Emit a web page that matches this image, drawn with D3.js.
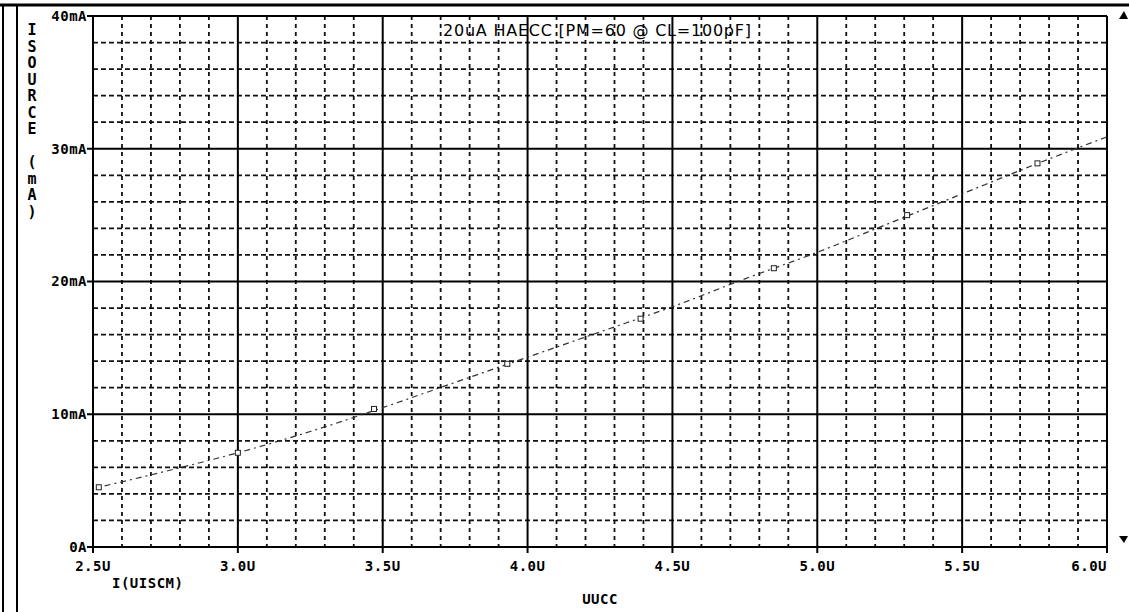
<!DOCTYPE html>
<html>
<head>
<meta charset="utf-8">
<script src="https://cdn.jsdelivr.net/npm/d3@7"></script>
<style>
    body { margin: 0; background: #fff; }
    .tickLabel { font-family: "DejaVu Sans Mono", monospace; font-weight: bold; font-size: 14px; letter-spacing: 0.5px; fill: #000; }
    .axisTitle { font-family: "DejaVu Sans Mono", monospace; font-weight: bold; font-size: 15px; fill: #000; }
    .title { font-family: "DejaVu Sans", sans-serif; font-size: 16px; fill: #000; }
</style>
</head>
<body>
<script>
// size of svg
var fullWidth = 1129;
var fullHeight = 612;

// plot area edges
var margin = {top: 16, right: 22, bottom: 65, left: 93};
var width = fullWidth - margin.left - margin.right;
var height = fullHeight - margin.top - margin.bottom;

// traced curve: supply voltage (V) against source current (mA)
var vcc = [2.52, 2.75, 3.0, 3.25, 3.5, 3.75, 4.0, 4.25, 4.5, 4.75, 5.0, 5.25, 5.5, 5.75, 6.0];
var isource = [4.5, 5.7, 7.1, 8.7, 10.5, 12.4, 14.3, 16.2, 18.1, 20.2, 22.2, 24.4, 26.6, 28.8, 30.9];

// square markers on the trace
var markerV = [2.52, 3.0, 3.47, 3.93, 4.39, 4.85, 5.31, 5.76];
var markerI = [4.5, 7.1, 10.4, 13.8, 17.2, 21.0, 25.0, 28.9];

// tick labels
var xTicks = [2.5, 3.0, 3.5, 4.0, 4.5, 5.0, 5.5, 6.0];
var xTickLabels = ["2.5U", "3.0U", "3.5U", "4.0U", "4.5U", "5.0U", "5.5U", "6.0U"];
var yTicks = [0, 10, 20, 30, 40];
var yTickLabels = ["0A", "10mA", "20mA", "30mA", "40mA"];
var yTitle = ["I", "S", "O", "U", "R", "C", "E", "", "(", "m", "A", ")"];

var svg = d3.select("body")
            .append("svg")
            .attr("width", fullWidth)
            .attr("height", fullHeight);

var xScale = d3.scaleLinear()
               .domain([2.5, 6.0])
               .range([margin.left, margin.left + width]);

var yScale = d3.scaleLinear()
               .domain([0, 40])
               .range([margin.top + height, margin.top]);

// outer frame of the printout
svg.append("line")
   .attr("x1", 0).attr("x2", fullWidth)
   .attr("y1", 5).attr("y2", 5)
   .style("stroke", "#000").style("stroke-width", 3);
[3, 17].forEach(function(x) {
    svg.append("line")
       .attr("x1", x).attr("x2", x)
       .attr("y1", 5).attr("y2", fullHeight)
       .style("stroke", "#000").style("stroke-width", 2);
});

// minor grid (dashed)
var minorX = d3.range(25, 61).map(function(d) { return d / 10; })
               .filter(function(d) { return Math.round(d * 10) % 5 != 0; });
var minorY = d3.range(0, 41, 2).filter(function(d) { return d % 10 != 0; });

svg.selectAll(".minorX")
   .data(minorX)
   .enter()
   .append("line")
   .attr("x1", function(d) { return xScale(d); })
   .attr("x2", function(d) { return xScale(d); })
   .attr("y1", margin.top)
   .attr("y2", margin.top + height)
   .style("stroke", "#111")
   .style("stroke-width", 1.8)
   .style("stroke-dasharray", "4,4");

svg.selectAll(".minorY")
   .data(minorY)
   .enter()
   .append("line")
   .attr("x1", margin.left)
   .attr("x2", margin.left + width)
   .attr("y1", function(d) { return yScale(d); })
   .attr("y2", function(d) { return yScale(d); })
   .style("stroke", "#111")
   .style("stroke-width", 1.8)
   .style("stroke-dasharray", "5,3");

// major grid (solid)
svg.selectAll(".majorX")
   .data(xTicks)
   .enter()
   .append("line")
   .attr("x1", function(d) { return xScale(d); })
   .attr("x2", function(d) { return xScale(d); })
   .attr("y1", margin.top)
   .attr("y2", margin.top + height + 6)
   .style("stroke", "#000")
   .style("stroke-width", 2);

svg.selectAll(".majorY")
   .data(yTicks)
   .enter()
   .append("line")
   .attr("x1", margin.left - 6)
   .attr("x2", margin.left + width)
   .attr("y1", function(d) { return yScale(d); })
   .attr("y2", function(d) { return yScale(d); })
   .style("stroke", "#000")
   .style("stroke-width", 2);

// y tick labels
svg.selectAll(".yLabel")
   .data(yTicks)
   .enter()
   .append("text")
   .attr("class", "tickLabel")
   .attr("x", margin.left - 6)
   .attr("y", function(d) { return yScale(d); })
   .attr("dy", "0.35em")
   .style("text-anchor", "end")
   .text(function(d, i) { return yTickLabels[i]; });

// x tick labels (last one kept inside the frame)
svg.selectAll(".xLabel")
   .data(xTicks)
   .enter()
   .append("text")
   .attr("class", "tickLabel")
   .attr("x", function(d) { return xScale(d); })
   .attr("y", margin.top + height + 24)
   .style("text-anchor", function(d, i) { return i == xTicks.length - 1 ? "end" : "middle"; })
   .text(function(d, i) { return xTickLabels[i]; });

// axis titles
svg.append("text")
   .attr("class", "tickLabel")
   .attr("x", 112)
   .attr("y", 588)
   .text("I(UISCM)");

svg.append("text")
   .attr("class", "tickLabel")
   .attr("x", 600)
   .attr("y", 604)
   .style("text-anchor", "middle")
   .text("UUCC");

svg.selectAll(".yTitle")
   .data(yTitle)
   .enter()
   .append("text")
   .attr("class", "axisTitle")
   .attr("x", 32)
   .attr("y", function(d, i) { return 35 + i * 16.5; })
   .style("text-anchor", "middle")
   .text(function(d) { return d; });

// plot title
svg.append("text")
   .attr("class", "title")
   .attr("x", 443)
   .attr("y", 36)
   .attr("textLength", 308)
   .attr("lengthAdjust", "spacing")
   .text("20uA HAECC [PM=60 @ CL=100pF]");

// scroll arrows at the right edge
svg.append("path")
   .attr("d", "M1119,19 L1124,11 L1128,19 Z")
   .style("fill", "#000");
svg.append("path")
   .attr("d", "M1119,536 L1124,543 L1128,536 Z")
   .style("fill", "#000");

// trace
var line = d3.line()
             .x(function(d) { return xScale(d[0]); })
             .y(function(d) { return yScale(d[1]); })
             .curve(d3.curveMonotoneX);

svg.append("path")
   .datum(d3.zip(vcc, isource))
   .attr("d", line)
   .style("fill", "none")
   .style("stroke", "#333")
   .style("stroke-width", 1.2)
   .style("stroke-dasharray", "2,4,6,4");

svg.selectAll(".marker")
   .data(d3.zip(markerV, markerI))
   .enter()
   .append("rect")
   .attr("x", function(d) { return xScale(d[0]) - 2.5; })
   .attr("y", function(d) { return yScale(d[1]) - 2.5; })
   .attr("width", 5)
   .attr("height", 5)
   .style("fill", "#fff")
   .style("stroke", "#222")
   .style("stroke-width", 1);
</script>
</body>
</html>
